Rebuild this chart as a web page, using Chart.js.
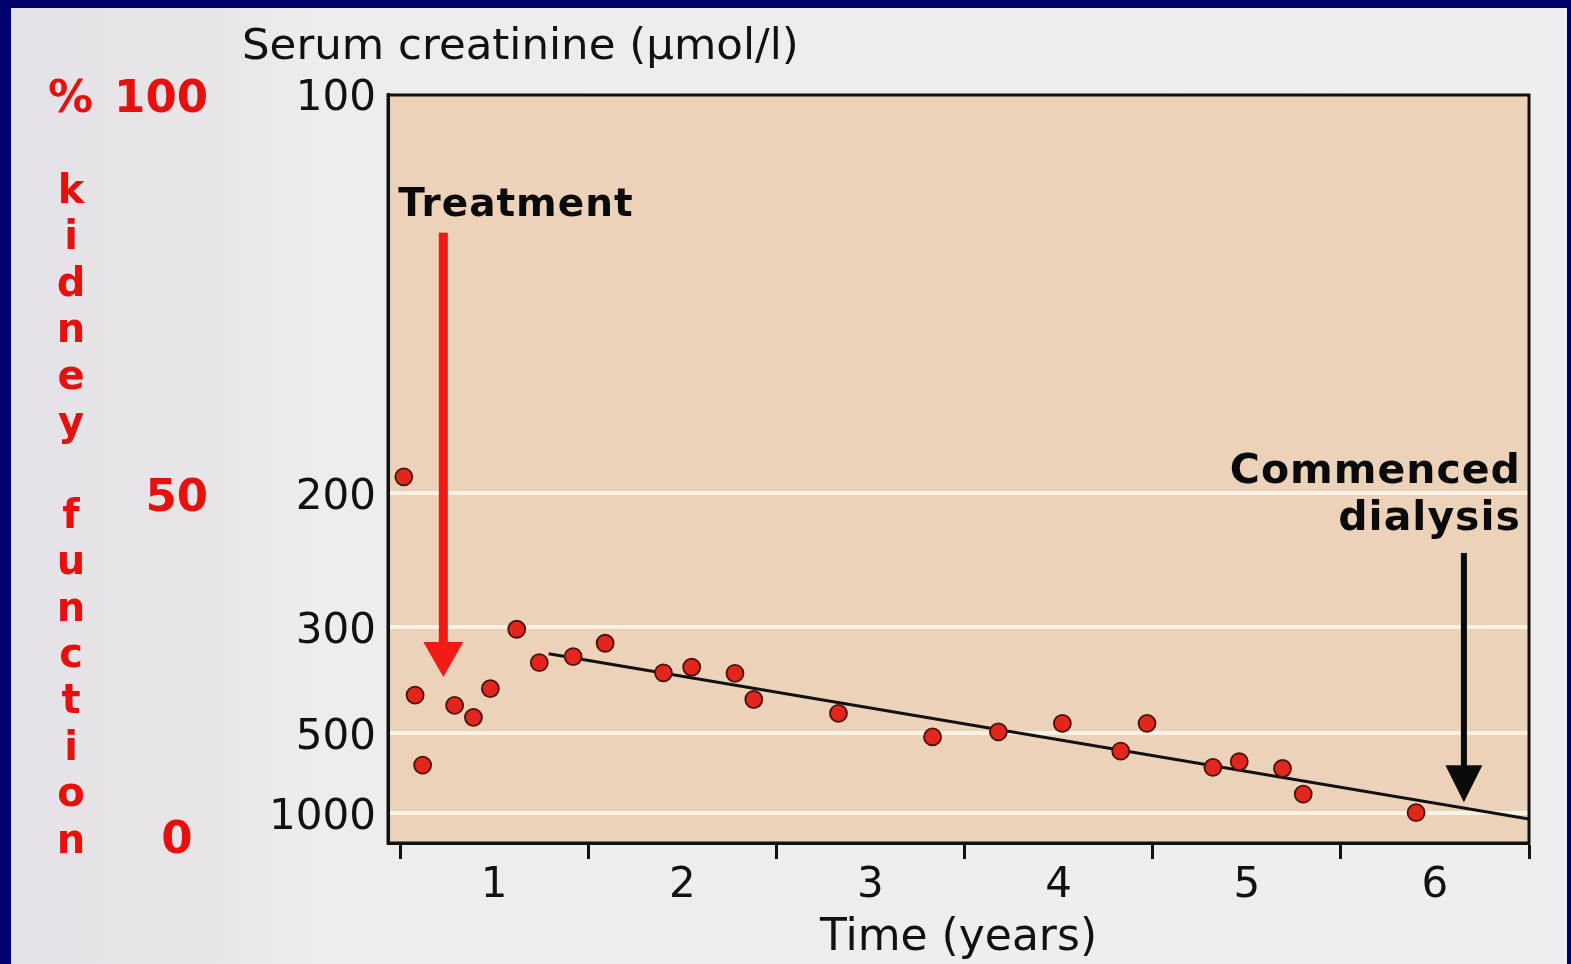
<!DOCTYPE html>
<html><head><meta charset="utf-8">
<script src="https://cdn.jsdelivr.net/npm/chart.js@4.4.1/dist/chart.umd.min.js"></script>
<style>html,body{margin:0;padding:0;background:#00006b;overflow:hidden}canvas{display:block}</style>
</head><body>
<canvas id="c" width="1571" height="964"></canvas>
<script>
// ---- data ----
const yearLabels = ['1','2','3','4','5','6'];
const creatinineTicks = [100, 200, 300, 500, 1000];
const years = [0.02,0.08,0.12,0.29,0.39,0.48,0.62,0.74,0.92,1.09,1.40,1.55,1.78,1.88,2.33,2.83,3.18,3.52,3.83,3.97,4.32,4.46,4.69,4.80,5.40];
const creatinine = [192,404,625,426,455,391,303,347,338,320,363,354,364,413,445,512,496,471,563,471,636,609,642,808,996];
const trendYears = [0.79, 6.0];
const trendCreatinine = [334, 1080];
const kidneyPctLabels = ['% 100', '50', '0'];
const kidneyPctAt = [100, 200, 1380];
const treatmentArrow = {year: 0.23, from: 121, to: 370};
const dialysisArrow = {year: 5.654, from: 235, to: 880};

const inv = c => 1 / c;
const pointData = years.map((x, i) => ({x, y: inv(creatinine[i])}));
const trendData = trendYears.map((x, i) => ({x, y: inv(trendCreatinine[i])}));

const BOLD = 'bold 40px "DejaVu Sans"';

const deco = {
  id: 'deco',
  beforeDraw(chart) {
    const {ctx, chartArea: a} = chart;
    ctx.save();
    ctx.fillStyle = '#00006b';
    ctx.fillRect(0, 0, 1571, 964);
    const g = ctx.createLinearGradient(11, 0, 1567, 0);
    g.addColorStop(0, '#e5e2e7');
    g.addColorStop(0.14, '#e8e6e9');
    g.addColorStop(0.2, '#eeedee');
    g.addColorStop(1, '#efeeef');
    ctx.fillStyle = g;
    ctx.fillRect(11, 8, 1567 - 11, 964 - 8);
    ctx.fillStyle = '#ecd2b9';
    ctx.fillRect(a.left, a.top, a.right - a.left, a.bottom - a.top);
    ctx.restore();
  },
  afterDraw(chart) {
    const {ctx, chartArea: a, scales} = chart;
    const xs = scales.x, ys = scales.y;
    const px = v => xs.getPixelForValue(v);
    const py = c => ys.getPixelForValue(1 / c);
    ctx.save();
    // plot frame
    ctx.strokeStyle = '#111';
    ctx.lineWidth = 3;
    ctx.strokeRect(a.left, a.top + 1, a.right - a.left, a.bottom - a.top - 1);

    // arrows
    function arrow(spec, color, shaftW, headW, headL) {
      const x = px(spec.year), y0 = py(spec.from), y1 = py(spec.to);
      ctx.fillStyle = color;
      ctx.fillRect(x - shaftW / 2, y0, shaftW, y1 - y0 - headL + 2);
      ctx.beginPath();
      ctx.moveTo(x - headW / 2, y1 - headL);
      ctx.lineTo(x + headW / 2, y1 - headL);
      ctx.lineTo(x, y1);
      ctx.closePath();
      ctx.fill();
    }
    arrow(treatmentArrow, '#f21a14', 9, 40, 35);
    arrow(dialysisArrow, '#0a0a0a', 6, 37, 37);

    // annotation text
    ctx.fillStyle = '#0a0a0a';
    ctx.textBaseline = 'alphabetic';
    ctx.font = 'bold 39px "DejaVu Sans"';
    ctx.textAlign = 'left';
    try { ctx.letterSpacing = '1px'; } catch (e) {}
    ctx.fillText('Treatment', px(-0.01), py(118));
    ctx.font = 'bold 41px "DejaVu Sans"';
    ctx.textAlign = 'right';
    ctx.fillText('Commenced', px(5.952) + 1, py(195));
    ctx.fillText('dialysis', px(5.952) + 1, py(220));
    try { ctx.letterSpacing = '0px'; } catch (e) {}

    // top axis title
    ctx.textAlign = 'left';
    ctx.font = '43.5px "DejaVu Sans"';
    ctx.fillStyle = '#111';
    ctx.fillText('Serum creatinine (\u00b5mol/l)', 242, 59);
    // x axis title
    ctx.textAlign = 'center';
    ctx.font = '44px "DejaVu Sans"';
    ctx.fillText('Time (years)', (a.left + a.right) / 2, 950);

    // red kidney function labels
    ctx.fillStyle = '#e8100c';
    ctx.font = 'bold 45px "DejaVu Sans"';
    ctx.textBaseline = 'middle';
    ctx.textAlign = 'right';
    kidneyPctLabels.forEach((t, i) => {
      const y = py(kidneyPctAt[i]) + 6;
      if (i === 2) { ctx.textAlign = 'center'; ctx.fillText(t, 177, y); }
      else if (i === 0) { ctx.textAlign = 'left'; ctx.fillText('%', 48, y); ctx.textAlign = 'right'; ctx.fillText('100', 208, y); }
      else ctx.fillText(t, 208, y);
    });
    ctx.font = BOLD;
    ctx.textAlign = 'center';
    ctx.textBaseline = 'alphabetic';
    const word = 'kidney function';
    for (let i = 0; i < word.length; i++) {
      if (word[i] === ' ') continue;
      ctx.fillText(word[i], 71, 203 + i * 46.4);
    }
    ctx.restore();
  }
};

new Chart(document.getElementById('c').getContext('2d'), {
  type: 'scatter',
  data: {
    datasets: [
      {data: pointData, pointRadius: 8.5, pointHoverRadius: 8.5,
       backgroundColor: '#e3261c', borderColor: '#4a1208', borderWidth: 1.8, order: 0},
      {type: 'line', data: trendData, showLine: true, pointRadius: 0,
       borderColor: '#111', borderWidth: 3, fill: false, order: 1}
    ]
  },
  options: {
    responsive: false, animation: false, events: [],
    layout: {padding: {left: 0, right: 42, top: 94, bottom: 0}},
    plugins: {legend: {display: false}, tooltip: {enabled: false}},
    scales: {
      x: {
        type: 'linear', min: -0.064, max: 6, position: 'bottom',
        afterBuildTicks: s => { const t = []; for (let i = 0; i <= 12; i++) t.push({value: i / 2}); s.ticks = t; },
        afterFit: s => { s.height = 121; },
        ticks: {autoSkip: false, maxRotation: 0, padding: 2, color: '#111',
          font: {family: 'DejaVu Sans', size: 42},
          callback: v => Number.isInteger(v) ? '' : yearLabels[Math.floor(v)]},
        grid: {drawOnChartArea: false, drawTicks: true, tickLength: 16, tickWidth: 3,
          tickColor: c => (c.tick && Number.isInteger(c.tick.value)) ? '#111' : 'rgba(0,0,0,0)'},
        border: {display: true, color: '#111', width: 3}
      },
      y: {
        type: 'linear', min: 0.000625, max: 0.01,
        afterBuildTicks: s => { s.ticks = creatinineTicks.map(c => ({value: 1 / c})); },
        afterFit: s => { s.width = 388; },
        ticks: {padding: 12, labelOffset: 5, color: '#111', font: {family: 'DejaVu Sans', size: 42},
          callback: v => String(Math.round(1 / v))},
        grid: {color: c => (c.tick && Math.round(1 / c.tick.value) === 100) ? 'rgba(0,0,0,0)' : 'rgba(248,243,236,0.92)',
          lineWidth: 4, drawTicks: false},
        border: {display: true, color: '#111', width: 3}
      }
    }
  },
  plugins: [deco]
});
</script>
</body></html>
